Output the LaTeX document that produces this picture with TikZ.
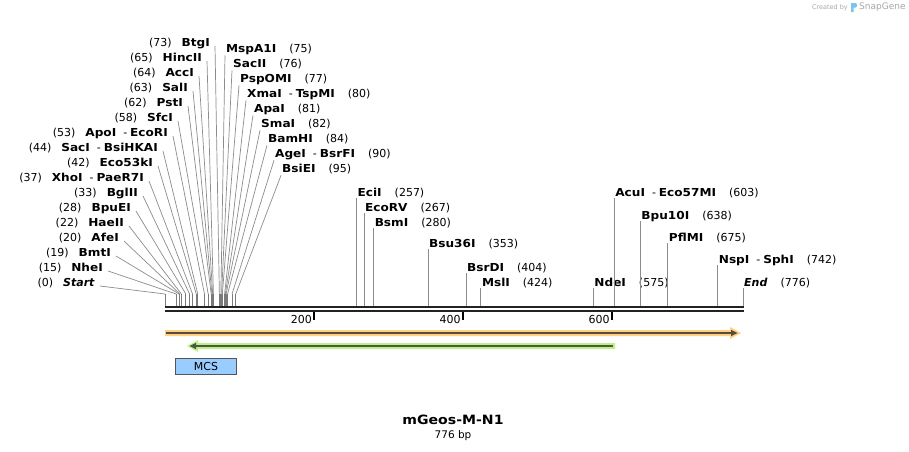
\documentclass[tikz,border=0pt]{standalone}
\usepackage{fontspec}
\setmainfont{DejaVu Sans}[BoldFeatures={FakeStretch=1.1}]
\definecolor{leadgray}{HTML}{8C8C8C}
\definecolor{tickgray}{HTML}{7A7A7A}
\definecolor{bbone}{HTML}{222222}
\definecolor{orangehalo}{HTML}{FFD080}
\definecolor{greenhalo}{HTML}{BDF08C}
\definecolor{featdark}{HTML}{584A3C}
\definecolor{featgreen}{HTML}{4A5A3A}
\definecolor{mcsfill}{HTML}{99CCFF}
\definecolor{mcsdraw}{HTML}{555555}
\definecolor{sgtext}{HTML}{A8A8A8}
\definecolor{sgblue}{HTML}{7CC4EC}
\newcommand\LeftSite[4]{%
  \node[leftlab] (l#1) at (#2,#3+1) {#4};
  \draw[leader] ([shift={(5,3)}]l#1.east) -- (t#1);
  \draw[sitetick] (t#1) -- (b#1);}
\newcommand\RightSite[4]{%
  \node[rightlab] (r#1) at (#2,#3+1) {#4};
  \draw[leader] ([shift={(-1,6)}]r#1.west) -- (t#1);
  \draw[sitetick] (t#1) -- (b#1);}
\newcommand\VertSite[3]{%
  \node[rightlab] (r#1) at ({165+#1*0.744845+1},#2+1) {#3};
  \draw[leader] (r#1.south west -| b#1) -- (b#1);}
\newcommand\NN{\hspace{10pt}}
\newcommand\RG{\hspace{13pt}}
\newcommand\DS{\hspace{7pt}-\hspace{3pt}}
\begin{document}
\begin{tikzpicture}[x=1pt,y=-1pt,
  lab/.style={inner sep=0pt, text height=8pt, text depth=2pt, font=\fontsize{11}{13}\selectfont},
  leftlab/.style={lab, anchor=east},
  rightlab/.style={lab, anchor=west},
  leader/.style={draw=leadgray, line width=0.7pt},
  sitetick/.style={draw=tickgray, line width=0.8pt},
  backbone/.style={draw=bbone, line width=2.3pt},
  scaletick/.style={draw=black, line width=1.8pt},
  darkline/.style={line width=2pt}]
\useasboundingbox (0,0) rectangle (909,451);
\fill[white] (0,0) rectangle (909,451);
\foreach \b in {0,15,19,20,22,28,33,37,42,44,53,58,62,63,64,65,73,75,76,77,80,81,82,84,90,95,257,267,280,353,404,424,575,603,638,675,742,776} {
  \coordinate (t\b) at ({165+\b*0.744845},294);
  \coordinate (b\b) at ({165+\b*0.744845},305.5);
}
% left cluster labels
\LeftSite{0}{95}{282}{(0)\NN\textbf{\textit{Start}}}
\LeftSite{15}{103}{267}{(15)\NN\textbf{NheI}}
\LeftSite{19}{111}{252}{(19)\NN\textbf{BmtI}}
\LeftSite{20}{119}{237}{(20)\NN\textbf{AfeI}}
\LeftSite{22}{124}{222}{(22)\NN\textbf{HaeII}}
\LeftSite{28}{131}{207}{(28)\NN\textbf{BpuEI}}
\LeftSite{33}{138}{192}{(33)\NN\textbf{BglII}}
\LeftSite{37}{144}{177}{(37)\NN\textbf{XhoI}\DS\textbf{PaeR7I}}
\LeftSite{42}{153}{162}{(42)\NN\textbf{Eco53kI}}
\LeftSite{44}{158}{147}{(44)\NN\textbf{SacI}\DS\textbf{BsiHKAI}}
\LeftSite{53}{168}{132}{(53)\NN\textbf{ApoI}\DS\textbf{EcoRI}}
\LeftSite{58}{173}{117}{(58)\NN\textbf{SfcI}}
\LeftSite{62}{183}{102}{(62)\NN\textbf{PstI}}
\LeftSite{63}{188}{87}{(63)\NN\textbf{SalI}}
\LeftSite{64}{194}{72}{(64)\NN\textbf{AccI}}
\LeftSite{65}{202}{57}{(65)\NN\textbf{HincII}}
\LeftSite{73}{210}{42}{(73)\NN\textbf{BtgI}}
% right cluster labels
\RightSite{75}{226}{48.3}{\textbf{MspA1I}\RG(75)}
\RightSite{76}{233}{63.3}{\textbf{SacII}\RG(76)}
\RightSite{77}{240}{78.3}{\textbf{PspOMI}\RG(77)}
\RightSite{80}{247}{93.3}{\textbf{XmaI}\DS\textbf{TspMI}\RG(80)}
\RightSite{81}{254}{108.3}{\textbf{ApaI}\RG(81)}
\RightSite{82}{261}{123.3}{\textbf{SmaI}\RG(82)}
\RightSite{84}{268}{138.3}{\textbf{BamHI}\RG(84)}
\RightSite{90}{275}{153.3}{\textbf{AgeI}\DS\textbf{BsrFI}\RG(90)}
\RightSite{95}{282}{168.3}{\textbf{BsiEI}\RG(95)}
% single sites
\VertSite{257}{192}{\textbf{EciI}\RG(257)}
\VertSite{267}{207}{\textbf{EcoRV}\RG(267)}
\VertSite{280}{222}{\textbf{BsmI}\RG(280)}
\VertSite{353}{243}{\textbf{Bsu36I}\RG(353)}
\VertSite{404}{267}{\textbf{BsrDI}\RG(404)}
\VertSite{424}{282}{\textbf{MslI}\RG(424)}
\VertSite{575}{282}{\textbf{NdeI}\RG(575)}
\VertSite{603}{192}{\textbf{AcuI}\DS\textbf{Eco57MI}\RG(603)}
\VertSite{638}{215}{\textbf{Bpu10I}\RG(638)}
\VertSite{675}{237}{\textbf{PflMI}\RG(675)}
\VertSite{742}{259}{\textbf{NspI}\DS\textbf{SphI}\RG(742)}
\VertSite{776}{282}{\textbf{\textit{End}}\RG(776)}
% backbone
\draw[backbone] (165,306.7) -- (743.5,306.7);
\draw[backbone] (165,311.2) -- (743.5,311.2);
% scale
\foreach \v in {200,400,600} {
  \draw[scaletick] ({165+\v*0.744845},312) -- ++(0,8);
  \node[lab, anchor=east] (n\v) at ({165+\v*0.744845-2},320) {\v};
}
% orange feature
\fill[orangehalo] (165,330) -- (730,330) -- (730,327) -- (741,333) -- (730,339) -- (730,336) -- (165,336) -- cycle;
\draw[darkline, featdark] (166,333) -- (732,333);
\fill[featdark] (731,329.8) -- (737.5,333) -- (731,336.2) -- cycle;
% green feature
\fill[greenhalo] (615,343) -- (198,343) -- (198,340) -- (187,346) -- (198,352) -- (198,349) -- (615,349) -- cycle;
\draw[darkline, featgreen] (612.5,346) -- (194,346);
\fill[featgreen] (196,342.8) -- (189.5,346) -- (196,349.2) -- cycle;
% MCS
\node[draw=mcsdraw, fill=mcsfill, line width=0.8pt, minimum width=61.5pt, minimum height=16pt, inner sep=0pt, font=\fontsize{11}{13}\selectfont] (mcs) at (206,366.2) {MCS};
% title
\node[font=\bfseries\fontsize{12.8}{16}\selectfont, inner sep=0pt] (title) at (453,420) {mGeos-M-N1};
\node[font=\fontsize{10.5}{12}\selectfont, inner sep=0pt] (len) at (453,436) {776 bp};
% SnapGene credit
\node[anchor=east, inner sep=0pt, text=sgtext, font=\fontsize{6.5}{8}\selectfont] (cb) at (848,7.5) {Created by};
\fill[sgblue] (851,3) -- (855.5,3) .. controls (857.5,3) and (857.5,7.5) .. (855.5,7.5) -- (853.5,7.5) -- (853.5,12) -- (851,12) -- cycle;
\node[anchor=west, inner sep=0pt, text=sgtext, font=\fontsize{9}{11}\selectfont] (sg) at (859,7.5) {SnapGene};
\end{tikzpicture}
\end{document}
